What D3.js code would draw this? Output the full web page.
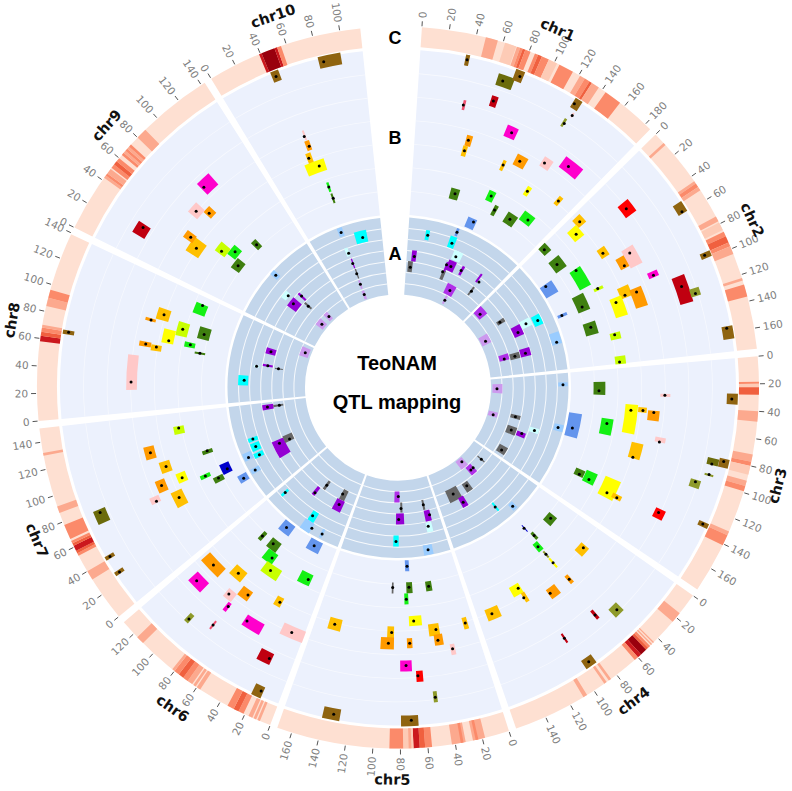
<!DOCTYPE html>
<html><head><meta charset="utf-8"><style>html,body{margin:0;background:#fff}svg{display:block}</style></head>
<body><svg id="c" width="792" height="791"></svg>
<script src="https://cdn.jsdelivr.net/npm/d3@7"></script>
<script>
const chromosomes=['chr1','chr2','chr3','chr4','chr5','chr6','chr7','chr8','chr9','chr10'];
const chromLengths=[185,175,178,163,171,131,150,139,143,115];
const tickMax=[180,160,160,140,160,120,140,140,140,100];
const traitCodes=['g','o','y','l','d','v','b','r','R','m','p','n','O','c','N','x','C','L','P','q','M','G','B'];
const traitColours=['#FFC000','#FF9A00','#FFFF00','#14F014','#3F7F10','#6B6B0B','#8F6410','#FF0000','#C00010','#FF00CC','#FFC8C8','#C8FF00','#8E9A2A','#6495ED','#0000CC','#F05070','#00FFFF','#CCFFFF','#9400D3','#CC99EE','#B030E8','#666666','#99CCFF'];
const heatColours=['#FEE0D2','#FDCBB6','#FCA98E','#FB8A6A','#F0603F','#CB181D','#99000D'];
// ring C: [start, end, level]
const heat1=[[47,56,2],[61.5,70,1],[70.5,73,2],[73,75,3],[75,77,4],[77,81,3],[84.5,87,3],[87,90,4],[90,95.5,3],[95.5,102,1],[104,115,3],[121,125,2],[125,129,3],[129,131,4],[131,137,2],[143,156,3]];
const heat2=[[8.5,10.5,2],[44,46,2],[46,49,3],[49,52,2],[74,78,2],[79,85,1],[86.5,90,3],[90,95,4],[95,98,3],[98,104,2],[122.5,124.5,2],[127.5,136.5,3]];
const heat3=[[18.5,20,3],[20,22.5,1],[22.5,28,4],[40,47.5,2],[71.5,77,2],[77,80,3],[80,86.5,1],[91,95,2],[95,99,3],[130,133,2],[133,141,3]];
const heat4=[[16,24,2],[44,45,2],[46,47,2],[48,50,3],[50,52,4],[52,57,6],[57,60,5],[60,63,3],[85,87,2],[89,91,2],[106,109,2]];
const heat5=[[18,27,2],[23,25,3],[32.4,42.5,2],[34,36,3],[57,62,3],[62,66,4],[66,70.5,5],[70.5,78,1],[72,74,2],[78,88,3]];
const heat6=[[8,10,2],[11,13,2],[14,17,2],[21,25,3],[25,29,4],[29,34,3],[57,60,2],[61,63,2],[64,68,2],[68,72,3],[72,76,4],[76,80,3],[80,82,2],[110.5,116.5,2]];
const heat7=[[33,40,2],[53,55,3],[55,57,4],[57,61,5],[61,63,4],[63,65,3],[66.5,77.5,3],[87,92,2],[130,132,2]];
const heat8=[[58,62,5],[62,65,4],[65,68,3],[68,70,2],[84,90,2],[90,96,3]];
const heat9=[[42,44,2],[44,46,3],[46,50,2],[51,54,3],[54,57,4],[57,60,3],[63,65,3],[65,67,2],[67,69,3],[69,71,2],[71,73,3],[80,88,2]];
const heat10=[[39,41,5],[41,51,6],[51,53,5],[53,56,3]];
const heatByChrom=[heat1,heat2,heat3,heat4,heat5,heat6,heat7,heat8,heat9,heat10];
// ring B QTL: [peak, score, ciStart, ciEnd, low, high, trait]
const qtlB1=[[37,162,35.5,38.7,156,167,'b'],[68.8,151,64,77.4,145,157,'v'],[80.4,161,75.7,83,155,167,'b'],[42.1,117,41.5,43.9,112,122,'x'],[66.7,129,64.3,70.1,123,134,'R'],[128.2,161,126.6,132.8,156,167,'b'],[129.7,139,127.8,130,135,144,'O'],[131.7,150,130.9,132.5,148,153,'p'],[92.4,106,86.3,97.2,100,112,'m'],[55.2,84,52.6,58.8,78,89,'o'],[54.2,73,51.7,56.7,67,78,'g'],[98.2,73,96.4,99.9,67,78,'g'],[111.8,84,106.6,118.5,78,90,'o'],[134,95,130.9,140.7,90,101,'p'],[154.6,106,147.3,167,100,113,'m'],[57.5,29,51,62.6,23,34,'d'],[101.1,40,96.2,105.3,34,45,'l'],[135.2,62,132.6,137.8,57,67,'y'],[168.5,73,166,170.9,68,78,'g'],[113,29,110.7,115.9,23,34,'d'],[136.3,29,129.5,143.8,23,35,'d'],[155.3,39,145.6,161.2,34,45,'l'],[94.6,9,84.9,98.5,1,12,'c']];
const qtlB2=[[58.1,161,50.8,59.7,156,166,'b'],[29.3,117,23.4,36,111,124,'r'],[9.6,73,3.5,14.1,68,78,'g'],[17.3,62,9.4,23.5,56,68,'y'],[51.4,72,45.5,56.2,68,77,'g'],[96.6,161,94.6,99.2,156.6,167.4,'b'],[5.5,28,-0.5,11.8,24,33,'d'],[31,28,22.6,39.9,22,35,'d'],[74.1,84,64.4,76.6,79,89,'o'],[65.5,95,60,79.6,88.4,101.6,'p'],[94.9,106,91.1,96.7,100.7,111.3,'m'],[51.2,40,49.1,74.9,33.2,45.8,'l'],[113.7,128,104.4,128.8,121.3,134.7,'R'],[123,139,118.5,125.3,134,144,'O'],[46.3,6,43.5,62,0,14,'c'],[82.7,50,81.65,85.25,45.5,55.5,'n'],[102.1,72,92.8,104.9,67,79,'g'],[103.5,84,99.3,119.7,77.7,90.3,'o'],[105.8,61,100.5,122.8,55.7,68.3,'y'],[95.2,28,79.4,101.4,22.2,34.8,'d'],[94.9,6,92.7,97.1,1.5,11.5,'c'],[123.9,29,117.4,133.9,22,35,'d'],[140.7,50,138.3,146.5,45.2,55.8,'n'],[156.5,161,155,165.2,156,167,'b'],[173.3,50,166.3,175.7,45.7,56.4,'n']];
const qtlB3=[[26.8,28,15.4,32.2,22.6,34.4,'d'],[30.4,94,28.9,31.9,89.5,99.5,'p'],[31.7,161,27.5,35.9,156,167,'b'],[48.2,61,41.75,74.15,55.2,67.8,'y'],[47.1,73,44,49.4,68.2,76.8,'g'],[48.1,84,46.35,56.55,78.2,89.8,'o'],[82.3,6,60.45,95.45,0,13,'c'],[67.5,39,61.35,81.15,33,45,'l'],[76.4,94,72,76.8,89.2,99.8,'p'],[98.3,72,82.3,99.3,67,79,'g'],[85.3,150,80.5,86.1,144.7,156.3,'v'],[81.2,161,79,86,156.5,166.5,'b'],[94,150,93.65,95.25,145.5,154.5,'O'],[103,139,101.25,108.05,133.7,144.3,'O'],[139.4,28,133,142.2,22.5,32.5,'d'],[140.3,39,130.2,145,33,45,'l'],[144.9,61,127.8,150.2,52.7,69.3,'y'],[144.8,72,141.45,146.85,66.5,76.5,'g'],[139.7,116,136.3,145.3,111.7,122.3,'r'],[132.9,161,131.05,135.05,156.2,166.8,'b']];
const qtlB4=[[24.6,28,19.3,32.4,23,33,'d'],[59.2,16,57.9,59.3,12.2,20.8,'N'],[55.6,28,53.6,57.6,24.2,32.8,'d'],[61.5,39,57.75,65.15,34,44,'l'],[60.4,50,59.2,61.6,46,54,'O'],[60.7,61,59.6,61.8,55,67,'y'],[25.7,72,22.6,33.9,67,77,'g'],[59.5,84,57.5,61.5,79,89,'o'],[83.7,83,74.6,85.5,78,89,'o'],[109.1,61,106.2,118.1,56,67,'y'],[109.2,72,105.35,109.55,66.7,77.3,'g'],[147.3,72,138.6,153.5,66,78,'g'],[46.8,139,42.9,51.9,133,144,'O'],[63.5,128,61.9,64.8,122.2,132.8,'R'],[97,128,95.95,97.75,122.7,133.3,'R'],[91.2,161,86.5,95.9,156,166,'b']];
const qtlB5=[[68.6,6,65.7,71.5,0,11,'c'],[67.4,27,63.1,70.9,22,33,'d'],[41.7,28,37.7,45.6,23,33,'d'],[71.5,39,69,73.9,33,44,'l'],[64.2,61,55.3,69.5,56,66,'y'],[41.1,72,37.5,48.9,66,78,'g'],[40.8,83,35.5,44.4,77,88,'o'],[9,72,6.5,11.5,66,78,'g'],[69.8,83,67.1,72.6,78,88,'o'],[27.9,94,25.3,29.9,89,100,'p'],[74.2,105,68.8,79.7,100,111,'m'],[63.7,116,59.1,65.2,111,122,'r'],[50.4,139,48.7,52,133,144,'O'],[71.3,160,65.8,79.4,155,166,'b'],[88.7,27,87.6,89.8,22,33,'G'],[150.1,72,142.9,156.5,66,78,'g'],[88.5,72,86,93.2,66,78,'g'],[91.6,83,85.9,99.5,77,89,'o'],[132.6,160,127.4,141,154,166,'b']];
const qtlB6=[[32.8,6,22.6,42.1,0,12,'c'],[81.2,6,71.3,89.8,0,12,'c'],[99,28,96.1,101.3,23,33,'d'],[81.6,27,72.4,87.2,22,33,'d'],[71.7,39,67.4,82.2,33,45,'l'],[64.5,50,52.6,74.1,44,56,'n'],[19.7,39,15.8,31.4,33,45,'l'],[91,72,83.5,98.5,66,78,'g'],[116,83,104.1,127.9,77,89,'o'],[116.2,106,106.2,121.8,99,112,'m'],[69.1,83,66.3,78.2,78,89,'o'],[84.8,94,78.5,88.3,89,99,'p'],[36.9,72,34.4,42.2,67,77,'g'],[77.9,104,76.6,80.3,100,110,'m'],[97.4,139,95.7,99.9,133,143,'O'],[78.4,128,77.5,79.3,123,133,'x'],[55.5,105,39.3,58.1,99,111,'m'],[12.4,94,-0.5,22.8,88,100,'p'],[21.2,127,19,31.2,121,133,'R'],[16.1,160,14.3,22.2,155,167,'b']];
const qtlB7=[[132,50,124.95,134.35,44.7,55.3,'n'],[96.1,28,92.25,97.45,22.7,33.3,'d'],[112.5,83,105.95,119.15,78.2,88.8,'o'],[93.9,72,87.8,99.9,67,78,'g'],[76.1,61,71.3,82.4,56,66,'y'],[67,39,64.5,69.5,33.7,44.3,'l'],[57.7,28,52.65,60.45,22.7,33.3,'d'],[63.7,16,57.9,72.6,12,22,'N'],[40.8,6,35.65,47.25,1,11,'c'],[76.9,83,70.3,82.9,78,88,'o'],[64.6,94,63,69.8,89.5,99.5,'p'],[57.9,72,48.6,65.6,66,78,'g'],[75.9,150,67.05,78.45,143.6,156.4,'v'],[40.9,161,39.5,42.7,156,166,'b'],[26.8,161,25.4,28.6,156,166,'b']];
const qtlB8=[[128.4,39,116.1,129.7,33.2,45.8,'l'],[103.2,72,97,109.4,66,79,'g'],[94.1,83,92.85,95.85,78.2,88.8,'o'],[67.8,161,65.95,69.15,155.3,166.7,'b'],[93.5,50,85.05,101.45,44.2,55.8,'n'],[94.3,28,87.4,103,22,34,'d'],[77.1,61,73.7,89.3,56,68,'y'],[69,83,66.35,71.45,77.5,89.5,'o'],[67.7,72,63.5,69.9,66.7,77.3,'g'],[77.5,39,74,80.2,34.1,44.9,'l'],[69.1,28,67.75,70.35,22.7,33.3,'d'],[29.7,94,22.05,56.45,88.15,98.85,'p']];
const qtlB9=[[86.7,28,82.85,90.65,23,33,'d'],[61.6,39,53.8,67.7,34,44,'l'],[52,50,48.2,60.7,44,56,'n'],[50.2,28,43,57.8,23,33,'d'],[38,72,30,46.8,65,80,'g'],[44,83,39.95,48.15,78.35,89.65,'o'],[26.5,128,18.5,29.5,121,135,'R'],[74.9,84,72,80.2,79,89,'o'],[67.7,95,62.3,74.1,89,101,'p'],[89.5,106,86.9,101.3,98,113,'m']];
const qtlB10=[[44.6,161,41.5,48,156,167,'b'],[83.7,161,79.9,97.7,155,167,'b'],[48.9,95,48.5,50.4,91,101,'p'],[50.1,84,47,52,80,90,'o'],[45.3,73,43.3,49,67,78,'g'],[53,62,38,60.2,56,68,'y'],[55.4,39,54,56.9,34,44,'l'],[56.1,27,54.5,57.1,22,32,'d']];
// ring A QTL
const qtlA1=[[33.1,62,29,35.7,57,67,'C'],[77.7,73,75.6,79.8,69,77,'c'],[76.2,61,70.2,81.5,56,68,'C'],[91.6,50,84.8,101.7,46,56,'L'],[15.1,39,9.7,18.8,34,45,'P'],[9.3,28,3.5,13.6,23,34,'G'],[90.5,39,82.4,98.2,34,45,'P'],[79,31,78,85.1,23,33,'G'],[81.1,39,79.6,83.6,32,42,'P'],[112,40,110.6,115.8,35,45,'P'],[153.9,40,147.2,151.1,38,48,'P'],[153.3,28,150.1,154.4,23,33,'G'],[111.2,17,99.1,121.2,12,23,'M'],[111.6,6,108.2,113.5,2,11,'q']];
const qtlA2=[[12.6,17,-0.3,21.8,13,23,'M'],[54.2,28,49.9,58.5,24.7,33.3,'G'],[82.1,50,74.25,88.85,44.35,55.65,'L'],[86.2,62,76.6,94.7,57,66,'C'],[90.7,39,77.2,98.3,34,44,'P'],[75.9,6,60.1,84.7,1,11,'q'],[130.3,72,114.9,133.9,67,77,'B'],[134.5,17,124.3,138.5,12,22,'M'],[134.9,28,127.9,140.9,23,33,'G'],[134.4,39,124.75,140.55,33.7,44.3,'P']];
const qtlA3=[[25.8,6,13.95,37.55,1.5,11.5,'q'],[18.2,72,14.5,20.9,67.3,76.7,'B'],[95.6,6,87.3,100.5,0.8,10.2,'q'],[86.5,28,82.15,90.75,23,33,'G'],[116.8,28,108.2,125.5,23,33,'G'],[115.6,39,113.25,123.25,34,43,'P'],[102.4,50,97.95,107.15,44.5,54.5,'L'],[86.9,72,81.4,92.4,67.8,77.2,'B'],[164.7,28,154.55,171.85,23.3,32.7,'G']];
const qtlA4=[[64.5,5,56.9,78.1,1,11,'q'],[25.3,17,23.7,26.9,12,21,'G'],[60.8,17,51.7,67.5,12,22,'M'],[53.4,17,51.9,55,15,18,'G'],[90.5,27,83.5,98,23,33,'G'],[125.2,27,111.4,139,21,34,'G'],[115.1,39,108.6,120.5,33,44,'P'],[71.5,61,69.3,72.7,56,66,'C'],[49.2,72,44.8,53.3,68,76,'B']];
const qtlA5=[[26.2,27,24,28.4,22,32,'G'],[18.1,38,16.3,28.2,33,44,'P'],[25.6,49,18.5,29.4,45,55,'L'],[33.8,72,26.4,41.2,67,77,'B'],[81,16,78.2,90.2,11,22,'M'],[75.3,28,72.3,76.7,22,32,'G'],[80.4,39,69.8,85.7,33,44,'P'],[85.2,61,80.6,89.7,55,66,'C']];
const qtlA6=[[120.2,61,117.9,122.4,57,66,'C'],[80.1,41,77.3,83.9,34,44,'P'],[70,28,67.1,72.9,23,33,'G'],[30.7,27,21.3,32.9,22,33,'G'],[27.3,38,19,36.3,33,45,'P'],[59.1,61,51.5,62.8,56,67,'C'],[49,72,48.8,65.7,67,78,'B'],[30.3,72,28.6,32.9,67,76,'B']];
const qtlA7=[[141,39,135.95,145.95,32.9,44.1,'P'],[140.8,27,138.8,143.2,23,33,'G'],[90.5,61,86.6,93.4,56,66,'C'],[77,61,70.25,83.85,56.3,65.7,'C'],[61.8,61,58.35,66.75,56.5,66.5,'C'],[65.4,72,61.2,73.8,67.3,76.7,'B'],[42.6,72,38.65,46.65,66.5,76.5,'B'],[64.7,38,38.6,72.4,32.2,44.8,'P'],[64,27,59.95,75.15,22.5,32.5,'G']];
const qtlA8=[[117.9,6,106.7,131.2,2,11,'q'],[96.3,39,90.4,102.2,34,44,'P'],[65.2,28,63.6,65.8,23.5,31.5,'G'],[67.8,39,65.8,69.8,34,44,'P'],[63.2,50,61.45,65.05,47.35,52.65,'L'],[36.5,61,28,45,57,67,'C']];
const qtlA9=[[74.4,73,69.9,78.3,69,78,'B'],[61.9,50,52.3,66.8,49,55,'L'],[56.5,41,46.4,66.1,34,45,'P'],[78.6,40,75.8,80.4,34,44,'P'],[72.4,28,70.7,75.1,24,33,'G'],[88.8,6,81.4,93.7,2,11,'q'],[61.4,6,51.2,70.5,2,11,'q']];
const qtlA10=[[50.3,72,45.8,54.2,68,77,'B'],[81.9,61,69.6,89.9,56,68,'C'],[50.2,50,45.5,51.6,47,56,'L'],[50.8,39,50.1,52.7,34,44,'P'],[51.3,28,50.5,53.4,23,33,'G'],[51.1,17,48.8,52.8,12,21,'q'],[51.4,6,47.5,54.6,1,10,'q']];
const qtlB=[qtlB1,qtlB2,qtlB3,qtlB4,qtlB5,qtlB6,qtlB7,qtlB8,qtlB9,qtlB10];
const qtlA=[qtlA1,qtlA2,qtlA3,qtlA4,qtlA5,qtlA6,qtlA7,qtlA8,qtlA9,qtlA10];
const trackLabels=['A','B','C'];
const titleLines=['TeoNAM','QTL mapping'];

const rad=d=>d*Math.PI/180;
const firstAngle=3.8,lastAngle=354,gap=1.2;
const unit=(lastAngle-firstAngle-gap*9)/d3.sum(chromLengths);
let cursor=firstAngle;
const angleScales=chromLengths.map(l=>{const s=d3.scaleLinear([0,l],[cursor,cursor+l*unit]);cursor+=l*unit+gap;return s});
const rB=d3.scaleLinear([0,165],[173,338]);
const rA=d3.scaleLinear([0,77.5],[93,170.5]);
const colour=d3.scaleOrdinal(traitCodes,traitColours);
const svg=d3.select('#c');
const g=svg.append('g').attr('transform','translate(398,387.5)');
const arc=d3.arc();
const sector=(inner,outer,a0,a1)=>arc({innerRadius:inner,outerRadius:outer,startAngle:rad(a0),endAngle:rad(a1)});
const polar=(r,a)=>[r*Math.sin(rad(a)),-r*Math.cos(rad(a))];

chromosomes.forEach((name,i)=>{
  const sc=angleScales[i],len=chromLengths[i],a0=sc(0),a1=sc(len);
  const s=g.append('g').attr('class',name);
  s.append('path').attr('d',sector(341,361,a0,a1)).attr('fill',heatColours[0]);
  s.selectAll('path.heat').data(heatByChrom[i]).join('path').attr('class','heat')
    .attr('d',d=>sector(341,361,sc(d[0]),sc(d[1]))).attr('fill',d=>heatColours[d[2]]);
  s.append('path').attr('d',sector(173,338,a0,a1)).attr('fill','#ECF1FD');
  s.append('path').attr('d',sector(93,170.5,a0,a1)).attr('fill','#C3D6EB');
  d3.range(1,7).forEach(k=>{
    s.append('path').attr('d',sector(rB(k*165/7)-0.4,rB(k*165/7)+0.4,a0,a1)).attr('fill','#fff').attr('opacity',0.55);
    s.append('path').attr('d',sector(rA(k*77.5/7)-0.5,rA(k*77.5/7)+0.5,a0,a1)).attr('fill','#fff').attr('opacity',0.85);
  });
  [[qtlA[i],rA],[qtlB[i],rB]].forEach(([rows,r])=>{
    s.append('g').selectAll('path').data(rows).join('path')
      .attr('d',d=>sector(r(d[4]),r(d[5]),sc(d[2]),sc(d[3]))).attr('fill',d=>colour(d[6]));
    s.append('g').selectAll('circle').data(rows).join('circle')
      .attr('cx',d=>polar(r(d[1]),sc(d[0]))[0]).attr('cy',d=>polar(r(d[1]),sc(d[0]))[1])
      .attr('r',1.5).attr('fill','#000');
  });
  const t=s.append('g').selectAll('g').data(d3.range(0,tickMax[i]+1,20)).join('g');
  t.append('line').each(function(d){
    const [x1,y1]=polar(362,sc(d)),[x2,y2]=polar(367,sc(d));
    d3.select(this).attr('x1',x1).attr('y1',y1).attr('x2',x2).attr('y2',y2);
  }).attr('stroke','#555').attr('stroke-width',1);
  t.append('text').text(d=>d).each(function(d){
    const a=sc(d),flip=a>180,[x,y]=polar(370,a);
    d3.select(this).attr('transform',`translate(${x},${y}) rotate(${flip?a+90:a-90})`)
      .attr('text-anchor',flip?'end':'start').attr('dy','0.35em');
  }).attr('font-family','DejaVu Sans').attr('font-size',10.5).attr('fill','#808080');
  const mid=sc(len/2),[lx,ly]=polar(392,mid),rot=(mid>90&&mid<270)?mid-180:mid;
  s.append('text').text(name).attr('transform',`translate(${lx},${ly}) rotate(${rot})`)
    .attr('text-anchor','middle').attr('dy','0.35em')
    .attr('font-family','DejaVu Sans').attr('font-weight','bold').attr('font-size',14.5).attr('fill','#111');
});
const letterRadius=d3.scaleOrdinal(trackLabels,[134,250,350]);
g.selectAll('text.track').data(trackLabels).join('text').attr('class','track').text(d=>d)
  .attr('x',-3).attr('y',d=>-letterRadius(d)).attr('dy','0.36em').attr('text-anchor','middle')
  .attr('font-family','Liberation Sans').attr('font-weight','bold').attr('font-size',18).attr('fill','#000');
g.selectAll('text.title').data(titleLines).join('text').attr('class','title').text(d=>d)
  .attr('x',-1).attr('y',(d,i)=>i?21:-18).attr('text-anchor','middle')
  .attr('font-family','Liberation Sans').attr('font-weight','bold').attr('font-size',20).attr('fill','#000');
</script></body></html>
